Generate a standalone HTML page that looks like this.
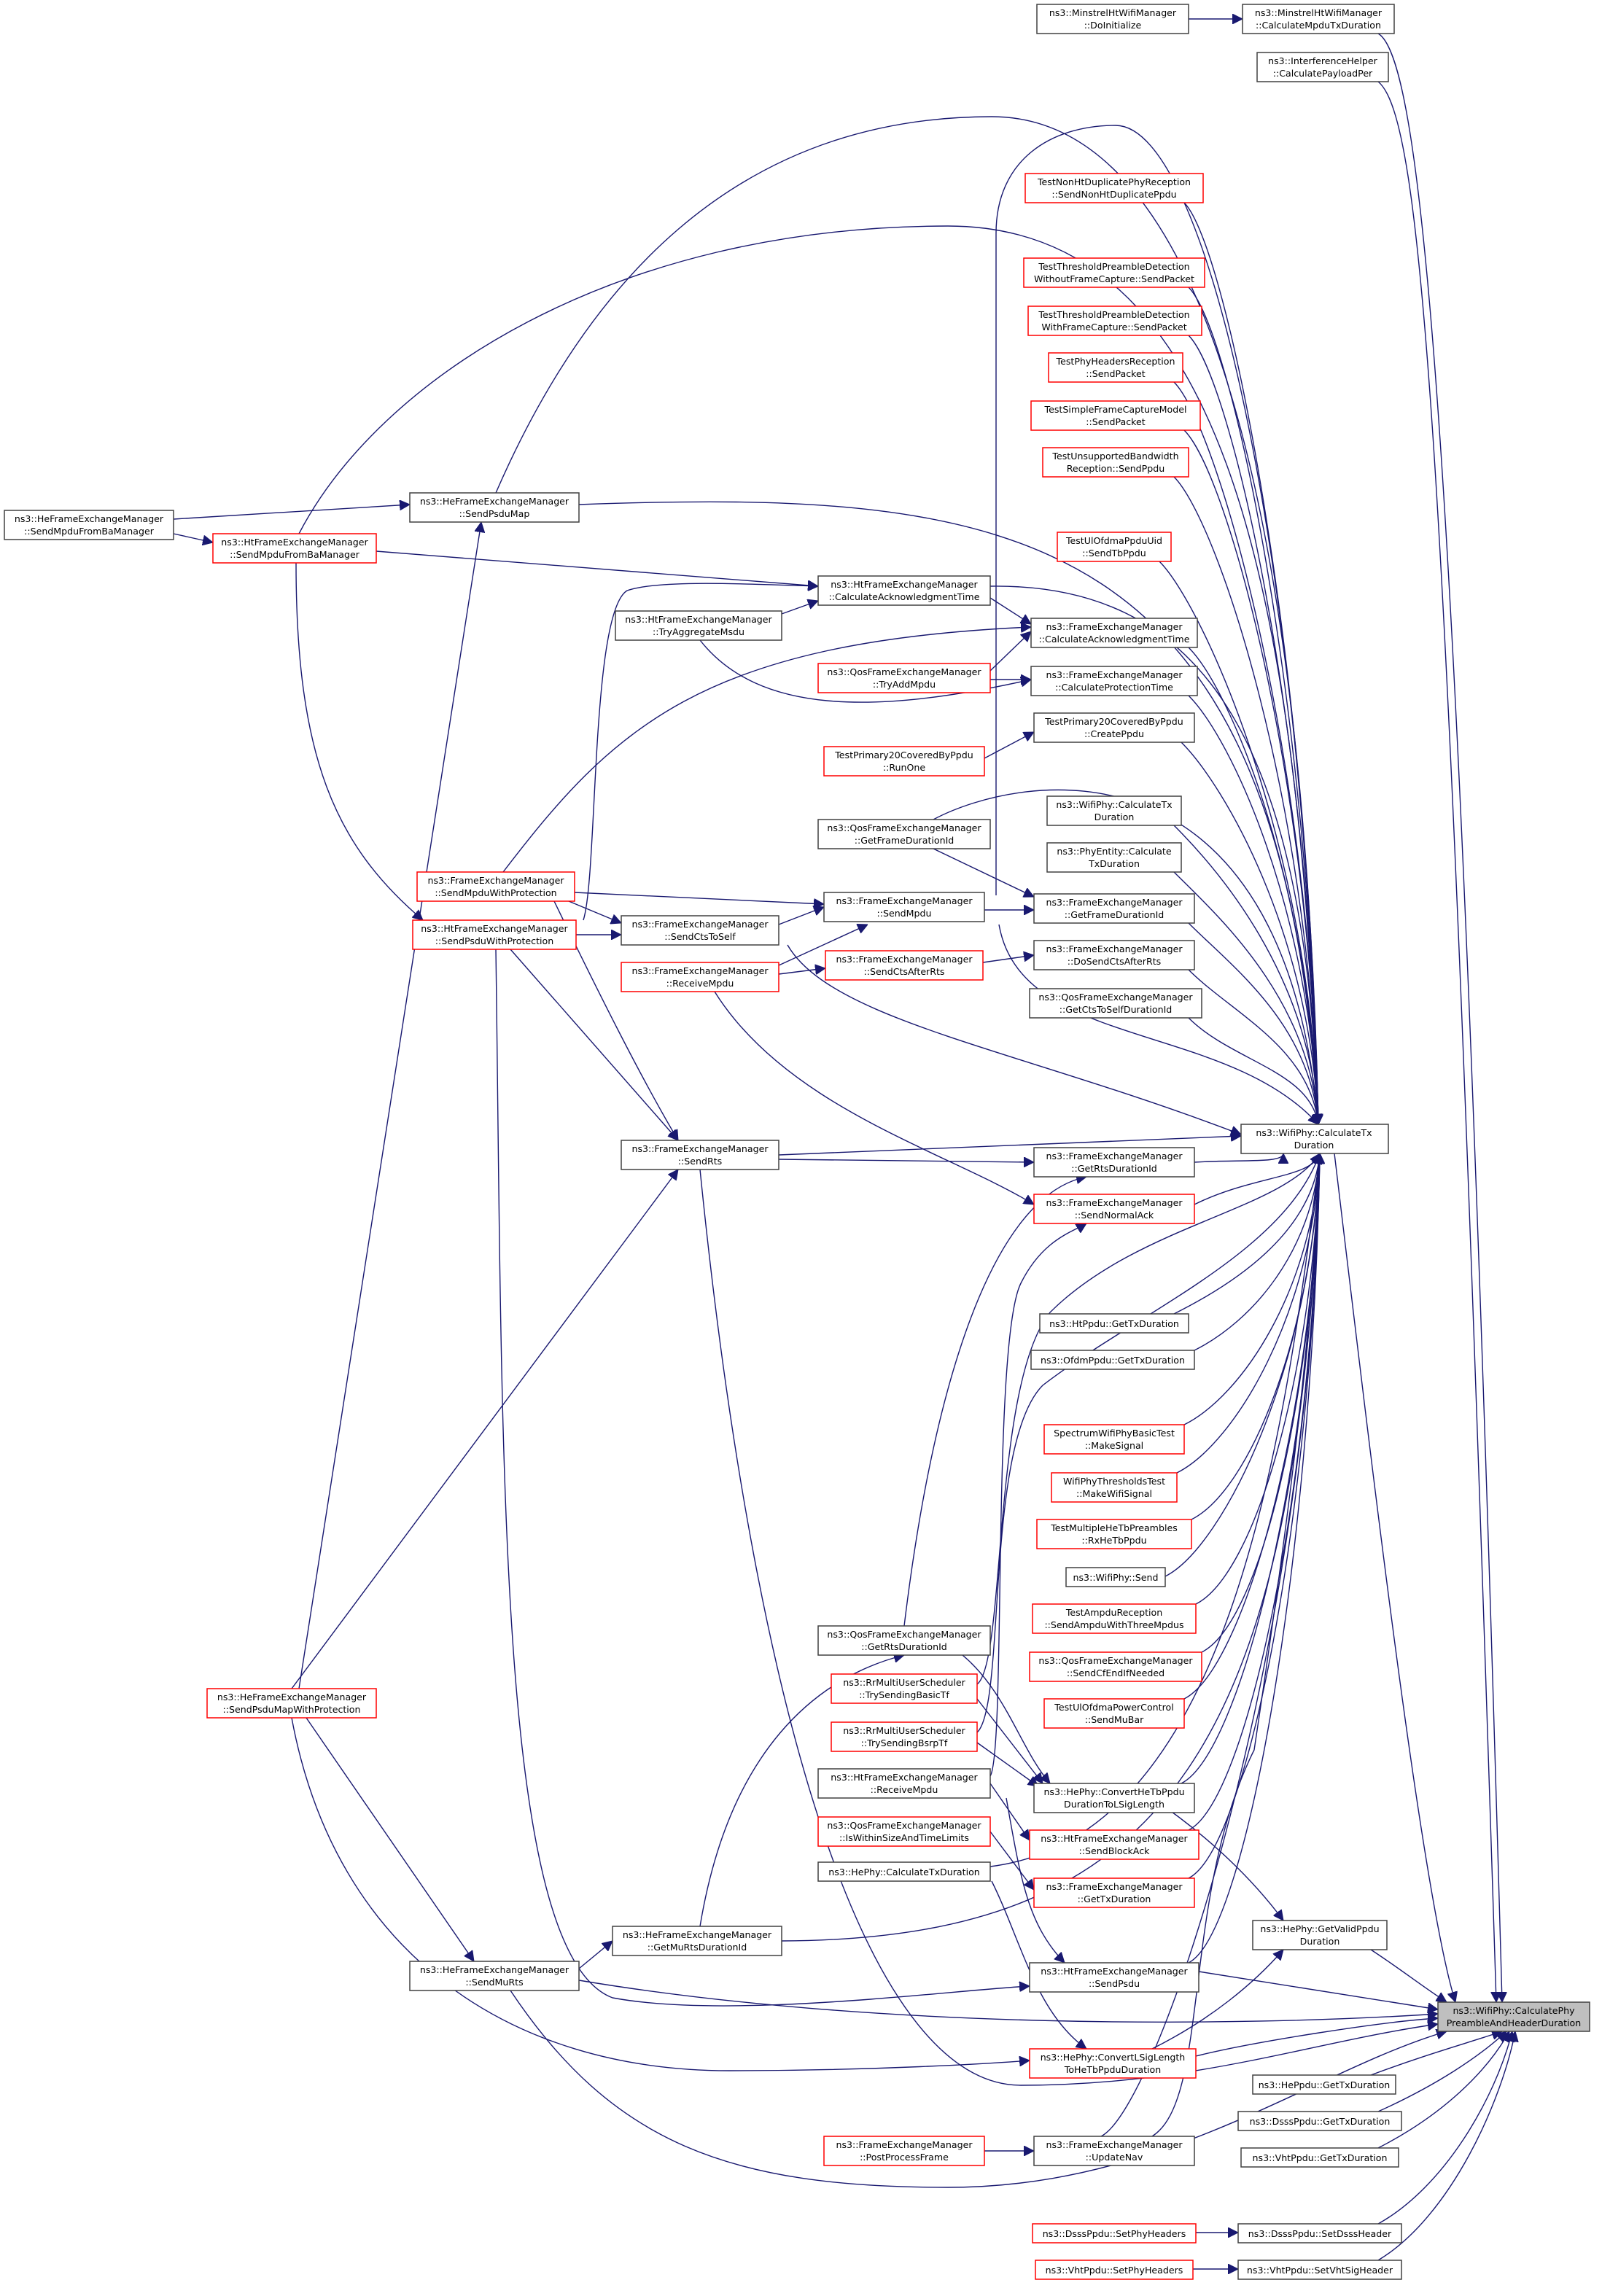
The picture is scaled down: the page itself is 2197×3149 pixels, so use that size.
<!DOCTYPE html>
<html><head><meta charset="utf-8"><style>
html,body{margin:0;padding:0;background:#fff;}
svg{display:block;}
text{font-family:"DejaVu Sans","Liberation Sans",sans-serif;font-size:6.3px;fill:#000;text-anchor:middle;}
.b{fill:#fff;stroke:#404040;stroke-width:0.75;}
.r{fill:#fff;stroke:#ff0000;stroke-width:0.75;}
.g{fill:#bfbfbf;stroke:#404040;stroke-width:0.75;}
path,line{fill:none;stroke:#191970;stroke-width:0.7;}
</style></head><body>
<svg width="2197" height="3149" viewBox="0 0 1098.5 1574.5" xmlns="http://www.w3.org/2000/svg">
<defs><marker id="a" viewBox="0 0 10 10" refX="10" refY="5" markerWidth="7" markerHeight="7" markerUnits="userSpaceOnUse" orient="auto"><path d="M0,0 L10,5 L0,10 z" style="fill:#191970;stroke:#191970"/></marker></defs>
<g marker-end="url(#a)">
<path d="M945,23 C975,40 1000,300 1030,1373"/>
<path d="M945,56 C975,80 992,300 1026,1373"/>
<path d="M812,139 C842,169 898,455 904,771"/>
<path d="M815,197 C845,227 898,484 904,771"/>
<path d="M815,230 C845,260 898,500 904,771"/>
<path d="M805,262 C835,292 898,516 904,771"/>
<path d="M812,295 C842,325 898,533 904,771"/>
<path d="M805,327 C835,357 898,549 904,771"/>
<path d="M795,385 C825,415 898,578 904,771"/>
<path d="M815,444 C845,474 898,607 904,771"/>
<path d="M815,477 C845,507 898,624 904,771"/>
<path d="M810,509 C840,539 898,640 904,771"/>
<path d="M805,566 C835,596 898,668 904,771"/>
<path d="M805,598 C835,628 898,684 904,771"/>
<path d="M815,633 C845,663 898,702 904,771"/>
<path d="M815,665 C845,695 898,718 904,771"/>
<path d="M815,698 C845,728 898,734 904,771"/>
<path d="M340,338 C400,200 500,80 680,80 C840,80 895,400 904,771"/>
<path d="M205,366 C260,260 420,155 650,155 C840,155 890,400 904,771"/>
<path d="M683,614 L683,160 C683,110 720,86 765,86 C830,86 895,400 904,771"/>
<path d="M397,346 C700,335 880,360 904,771"/>
<path d="M679,402 C820,400 895,500 904,771"/>
<path d="M640,562 C700,530 880,500 904,771"/>
<path d="M540,648 C570,700 700,720 851,778"/>
<path d="M685,634 C700,720 840,700 904,771"/>
<path d="M534,792 L851,779"/>
<path d="M819,797 C850,795 880,798 880,791"/>
<path d="M819,826 C859,806 900,808 905,791"/>
<path d="M805,901 C845,881 900,846 905,791"/>
<path d="M819,926 C859,906 900,858 905,791"/>
<path d="M812,977 C852,957 900,884 905,791"/>
<path d="M807,1010 C847,990 900,900 905,791"/>
<path d="M817,1042 C857,1022 900,916 905,791"/>
<path d="M799,1081 C839,1061 900,936 905,791"/>
<path d="M820,1100 C860,1080 900,945 905,791"/>
<path d="M824,1133 C864,1113 900,962 905,791"/>
<path d="M812,1165 C852,1145 900,978 905,791"/>
<path d="M810,1223 C850,1203 900,1007 905,791"/>
<path d="M815,1255 C855,1235 900,1023 905,791"/>
<path d="M815,1288 C855,1268 900,1040 905,791"/>
<path d="M815,1346 C855,1326 900,1068 905,791"/>
<path d="M755,1465 C795,1445 900,1128 905,791"/>
<path d="M790,1465 C830,1440 810,1300 860,1200 C890,1000 900,900 905,791"/>
<path d="M670,1155 C690,1140 680,950 720,900 C780,840 880,830 905,791"/>
<path d="M670,1188 C690,1170 675,990 715,950 C780,900 880,860 905,791"/>
<path d="M679,1280 C840,1260 880,1000 905,791"/>
<path d="M536,1331 C800,1330 890,1200 905,791"/>
<path d="M679,1218 C690,1200 680,920 700,880 C715,850 735,845 745,839"/>
<path d="M915,791 C940,1000 975,1300 998,1373"/>
<path d="M940,1337 C960,1350 975,1362 992,1373"/>
<path d="M822,1352 L986,1378"/>
<path d="M820,1410 C860,1400 950,1386 986,1384"/>
<path d="M397,1358 C600,1392 850,1390 986,1381"/>
<path d="M350,1365 C420,1470 500,1500 650,1500 C800,1500 900,1420 992,1393"/>
<path d="M480,802 C520,1200 600,1430 700,1430 C820,1430 900,1400 986,1388"/>
<path d="M940,1423 C980,1408 1010,1400 1030,1393"/>
<path d="M945,1448 C985,1430 1015,1410 1033,1393"/>
<path d="M945,1473 C990,1450 1020,1420 1035,1393"/>
<path d="M945,1525 C990,1500 1025,1440 1037,1393"/>
<path d="M945,1550 C995,1520 1030,1440 1039,1393"/>
<path d="M815,13 L852,13"/>
<path d="M119,356 L281,346"/>
<path d="M119,366 L146,372"/>
<path d="M258,378 L561,402"/>
<path d="M203,386 C203,520 230,580 290,631"/>
<path d="M536,421 L561,412"/>
<path d="M480,439 C520,490 600,490 707,466"/>
<path d="M679,410 L707,428"/>
<path d="M679,460 L707,433"/>
<path d="M679,466 L707,466"/>
<path d="M675,520 L709,502"/>
<path d="M345,598 C420,500 480,440 707,430"/>
<path d="M394,612 L565,620"/>
<path d="M390,618 L426,633"/>
<path d="M380,618 C410,680 440,740 465,782"/>
<path d="M400,631 C410,600 405,420 430,405 C450,398 500,400 561,402"/>
<path d="M395,641 L426,641"/>
<path d="M350,651 L465,782"/>
<path d="M340,651 C345,1000 340,1340 420,1370 C500,1385 650,1365 706,1362"/>
<path d="M534,634 L565,622"/>
<path d="M675,624 L709,624"/>
<path d="M640,582 L709,615"/>
<path d="M534,662 L595,634"/>
<path d="M534,668 L566,664"/>
<path d="M674,660 L709,655"/>
<path d="M490,680 C540,760 650,790 709,826"/>
<path d="M534,795 L709,797"/>
<path d="M620,1115 C640,950 680,820 745,807"/>
<path d="M200,1158 L465,802"/>
<path d="M205,1158 L330,358"/>
<path d="M210,1178 L325,1345"/>
<path d="M200,1178 C230,1340 350,1420 500,1420 C600,1420 680,1415 706,1413"/>
<path d="M397,1350 L420,1331"/>
<path d="M480,1321 C500,1200 560,1150 620,1135"/>
<path d="M670,1165 L715,1223"/>
<path d="M670,1195 L712,1225"/>
<path d="M660,1135 C690,1160 700,1200 720,1223"/>
<path d="M679,1223 L706,1262"/>
<path d="M690,1233 C700,1290 705,1320 730,1346"/>
<path d="M679,1256 L709,1296"/>
<path d="M680,1290 C700,1330 710,1380 745,1405"/>
<path d="M790,1233 C830,1260 860,1290 880,1317"/>
<path d="M790,1405 C830,1385 860,1360 880,1337"/>
<path d="M675,1475 L709,1475"/>
<path d="M820,1531 L849,1531"/>
<path d="M818,1556 L849,1556"/>
</g>
<g>
<rect class="b" x="711" y="3" width="104" height="20"/><text x="763" y="11">ns3::MinstrelHtWifiManager</text><text x="763" y="19.5">::DoInitialize</text>
<rect class="b" x="852" y="3" width="104" height="20"/><text x="904" y="11">ns3::MinstrelHtWifiManager</text><text x="904" y="19.5">::CalculateMpduTxDuration</text>
<rect class="b" x="862" y="36" width="90" height="20"/><text x="907" y="44">ns3::InterferenceHelper</text><text x="907" y="52.5">::CalculatePayloadPer</text>
<rect class="r" x="703" y="119" width="122" height="20"/><text x="764" y="127">TestNonHtDuplicatePhyReception</text><text x="764" y="135.5">::SendNonHtDuplicatePpdu</text>
<rect class="r" x="702" y="177" width="124" height="20"/><text x="764" y="185">TestThresholdPreambleDetection</text><text x="764" y="193.5">WithoutFrameCapture::SendPacket</text>
<rect class="r" x="705" y="210" width="119" height="20"/><text x="764" y="218">TestThresholdPreambleDetection</text><text x="764" y="226.5">WithFrameCapture::SendPacket</text>
<rect class="r" x="719" y="242" width="92" height="20"/><text x="765" y="250">TestPhyHeadersReception</text><text x="765" y="258.5">::SendPacket</text>
<rect class="r" x="707" y="275" width="116" height="20"/><text x="765" y="283">TestSimpleFrameCaptureModel</text><text x="765" y="291.5">::SendPacket</text>
<rect class="r" x="715" y="307" width="100" height="20"/><text x="765" y="315">TestUnsupportedBandwidth</text><text x="765" y="323.5">Reception::SendPpdu</text>
<rect class="r" x="725" y="365" width="78" height="20"/><text x="764" y="373">TestUlOfdmaPpduUid</text><text x="764" y="381.5">::SendTbPpdu</text>
<rect class="b" x="561" y="395" width="118" height="20"/><text x="620" y="403">ns3::HtFrameExchangeManager</text><text x="620" y="411.5">::CalculateAcknowledgmentTime</text>
<rect class="b" x="422" y="419" width="114" height="20"/><text x="479" y="427">ns3::HtFrameExchangeManager</text><text x="479" y="435.5">::TryAggregateMsdu</text>
<rect class="b" x="707" y="424" width="114" height="20"/><text x="764" y="432">ns3::FrameExchangeManager</text><text x="764" y="440.5">::CalculateAcknowledgmentTime</text>
<rect class="r" x="561" y="455" width="118" height="20"/><text x="620" y="463">ns3::QosFrameExchangeManager</text><text x="620" y="471.5">::TryAddMpdu</text>
<rect class="b" x="707" y="457" width="114" height="20"/><text x="764" y="465">ns3::FrameExchangeManager</text><text x="764" y="473.5">::CalculateProtectionTime</text>
<rect class="b" x="709" y="489" width="110" height="20"/><text x="764" y="497">TestPrimary20CoveredByPpdu</text><text x="764" y="505.5">::CreatePpdu</text>
<rect class="r" x="565" y="512" width="110" height="20"/><text x="620" y="520">TestPrimary20CoveredByPpdu</text><text x="620" y="528.5">::RunOne</text>
<rect class="b" x="718" y="546" width="92" height="20"/><text x="764" y="554">ns3::WifiPhy::CalculateTx</text><text x="764" y="562.5">Duration</text>
<rect class="b" x="561" y="562" width="118" height="20"/><text x="620" y="570">ns3::QosFrameExchangeManager</text><text x="620" y="578.5">::GetFrameDurationId</text>
<rect class="b" x="718" y="578" width="92" height="20"/><text x="764" y="586">ns3::PhyEntity::Calculate</text><text x="764" y="594.5">TxDuration</text>
<rect class="r" x="286" y="598" width="108" height="20"/><text x="340" y="606">ns3::FrameExchangeManager</text><text x="340" y="614.5">::SendMpduWithProtection</text>
<rect class="b" x="565" y="612" width="110" height="20"/><text x="620" y="620">ns3::FrameExchangeManager</text><text x="620" y="628.5">::SendMpdu</text>
<rect class="b" x="709" y="613" width="110" height="20"/><text x="764" y="621">ns3::FrameExchangeManager</text><text x="764" y="629.5">::GetFrameDurationId</text>
<rect class="b" x="426" y="628" width="108" height="20"/><text x="480" y="636">ns3::FrameExchangeManager</text><text x="480" y="644.5">::SendCtsToSelf</text>
<rect class="r" x="283" y="631" width="112" height="20"/><text x="339" y="639">ns3::HtFrameExchangeManager</text><text x="339" y="647.5">::SendPsduWithProtection</text>
<rect class="b" x="709" y="645" width="110" height="20"/><text x="764" y="653">ns3::FrameExchangeManager</text><text x="764" y="661.5">::DoSendCtsAfterRts</text>
<rect class="r" x="566" y="652" width="108" height="20"/><text x="620" y="660">ns3::FrameExchangeManager</text><text x="620" y="668.5">::SendCtsAfterRts</text>
<rect class="r" x="426" y="660" width="108" height="20"/><text x="480" y="668">ns3::FrameExchangeManager</text><text x="480" y="676.5">::ReceiveMpdu</text>
<rect class="b" x="706" y="678" width="118" height="20"/><text x="765" y="686">ns3::QosFrameExchangeManager</text><text x="765" y="694.5">::GetCtsToSelfDurationId</text>
<rect class="b" x="851" y="771" width="101" height="20"/><text x="901" y="779">ns3::WifiPhy::CalculateTx</text><text x="901" y="787.5">Duration</text>
<rect class="b" x="426" y="782" width="108" height="20"/><text x="480" y="790">ns3::FrameExchangeManager</text><text x="480" y="798.5">::SendRts</text>
<rect class="b" x="709" y="787" width="110" height="20"/><text x="764" y="795">ns3::FrameExchangeManager</text><text x="764" y="803.5">::GetRtsDurationId</text>
<rect class="r" x="709" y="819" width="110" height="20"/><text x="764" y="827">ns3::FrameExchangeManager</text><text x="764" y="835.5">::SendNormalAck</text>
<rect class="b" x="713" y="901" width="102" height="13"/><text x="764" y="910">ns3::HtPpdu::GetTxDuration</text>
<rect class="b" x="707" y="926" width="112" height="13"/><text x="763" y="935">ns3::OfdmPpdu::GetTxDuration</text>
<rect class="r" x="716" y="977" width="96" height="20"/><text x="764" y="985">SpectrumWifiPhyBasicTest</text><text x="764" y="993.5">::MakeSignal</text>
<rect class="r" x="721" y="1010" width="86" height="20"/><text x="764" y="1018">WifiPhyThresholdsTest</text><text x="764" y="1026.5">::MakeWifiSignal</text>
<rect class="r" x="711" y="1042" width="106" height="20"/><text x="764" y="1050">TestMultipleHeTbPreambles</text><text x="764" y="1058.5">::RxHeTbPpdu</text>
<rect class="b" x="731" y="1075" width="68" height="13"/><text x="765" y="1084">ns3::WifiPhy::Send</text>
<rect class="r" x="708" y="1100" width="112" height="20"/><text x="764" y="1108">TestAmpduReception</text><text x="764" y="1116.5">::SendAmpduWithThreeMpdus</text>
<rect class="b" x="561" y="1115" width="118" height="20"/><text x="620" y="1123">ns3::QosFrameExchangeManager</text><text x="620" y="1131.5">::GetRtsDurationId</text>
<rect class="r" x="706" y="1133" width="118" height="20"/><text x="765" y="1141">ns3::QosFrameExchangeManager</text><text x="765" y="1149.5">::SendCfEndIfNeeded</text>
<rect class="r" x="570" y="1148" width="100" height="20"/><text x="620" y="1156">ns3::RrMultiUserScheduler</text><text x="620" y="1164.5">::TrySendingBasicTf</text>
<rect class="r" x="142" y="1158" width="116" height="20"/><text x="200" y="1166">ns3::HeFrameExchangeManager</text><text x="200" y="1174.5">::SendPsduMapWithProtection</text>
<rect class="r" x="716" y="1165" width="96" height="20"/><text x="764" y="1173">TestUlOfdmaPowerControl</text><text x="764" y="1181.5">::SendMuBar</text>
<rect class="r" x="570" y="1181" width="100" height="20"/><text x="620" y="1189">ns3::RrMultiUserScheduler</text><text x="620" y="1197.5">::TrySendingBsrpTf</text>
<rect class="b" x="561" y="1213" width="118" height="20"/><text x="620" y="1221">ns3::HtFrameExchangeManager</text><text x="620" y="1229.5">::ReceiveMpdu</text>
<rect class="b" x="709" y="1223" width="110" height="20"/><text x="764" y="1231">ns3::HePhy::ConvertHeTbPpdu</text><text x="764" y="1239.5">DurationToLSigLength</text>
<rect class="r" x="561" y="1246" width="118" height="20"/><text x="620" y="1254">ns3::QosFrameExchangeManager</text><text x="620" y="1262.5">::IsWithinSizeAndTimeLimits</text>
<rect class="r" x="706" y="1255" width="116" height="20"/><text x="764" y="1263">ns3::HtFrameExchangeManager</text><text x="764" y="1271.5">::SendBlockAck</text>
<rect class="b" x="561" y="1277" width="118" height="13"/><text x="620" y="1286">ns3::HePhy::CalculateTxDuration</text>
<rect class="r" x="709" y="1288" width="110" height="20"/><text x="764" y="1296">ns3::FrameExchangeManager</text><text x="764" y="1304.5">::GetTxDuration</text>
<rect class="b" x="859" y="1317" width="92" height="20"/><text x="905" y="1325">ns3::HePhy::GetValidPpdu</text><text x="905" y="1333.5">Duration</text>
<rect class="b" x="420" y="1321" width="116" height="20"/><text x="478" y="1329">ns3::HeFrameExchangeManager</text><text x="478" y="1337.5">::GetMuRtsDurationId</text>
<rect class="b" x="281" y="1345" width="116" height="20"/><text x="339" y="1353">ns3::HeFrameExchangeManager</text><text x="339" y="1361.5">::SendMuRts</text>
<rect class="b" x="706" y="1346" width="116" height="20"/><text x="764" y="1354">ns3::HtFrameExchangeManager</text><text x="764" y="1362.5">::SendPsdu</text>
<rect class="g" x="986" y="1373" width="104" height="20"/><text x="1038" y="1381">ns3::WifiPhy::CalculatePhy</text><text x="1038" y="1389.5">PreambleAndHeaderDuration</text>
<rect class="r" x="706" y="1405" width="114" height="20"/><text x="763" y="1413">ns3::HePhy::ConvertLSigLength</text><text x="763" y="1421.5">ToHeTbPpduDuration</text>
<rect class="b" x="859" y="1423" width="98" height="13"/><text x="908" y="1432">ns3::HePpdu::GetTxDuration</text>
<rect class="b" x="849" y="1448" width="112" height="13"/><text x="905" y="1457">ns3::DsssPpdu::GetTxDuration</text>
<rect class="r" x="565" y="1465" width="110" height="20"/><text x="620" y="1473">ns3::FrameExchangeManager</text><text x="620" y="1481.5">::PostProcessFrame</text>
<rect class="b" x="709" y="1465" width="110" height="20"/><text x="764" y="1473">ns3::FrameExchangeManager</text><text x="764" y="1481.5">::UpdateNav</text>
<rect class="b" x="851" y="1473" width="108" height="13"/><text x="905" y="1482">ns3::VhtPpdu::GetTxDuration</text>
<rect class="r" x="708" y="1525" width="112" height="13"/><text x="764" y="1534">ns3::DsssPpdu::SetPhyHeaders</text>
<rect class="b" x="849" y="1525" width="112" height="13"/><text x="905" y="1534">ns3::DsssPpdu::SetDsssHeader</text>
<rect class="r" x="710" y="1550" width="108" height="13"/><text x="764" y="1559">ns3::VhtPpdu::SetPhyHeaders</text>
<rect class="b" x="849" y="1550" width="112" height="13"/><text x="905" y="1559">ns3::VhtPpdu::SetVhtSigHeader</text>
<rect class="b" x="281" y="338" width="116" height="20"/><text x="339" y="346">ns3::HeFrameExchangeManager</text><text x="339" y="354.5">::SendPsduMap</text>
<rect class="b" x="3" y="350" width="116" height="20"/><text x="61" y="358">ns3::HeFrameExchangeManager</text><text x="61" y="366.5">::SendMpduFromBaManager</text>
<rect class="r" x="146" y="366" width="112" height="20"/><text x="202" y="374">ns3::HtFrameExchangeManager</text><text x="202" y="382.5">::SendMpduFromBaManager</text>
</g>
</svg>
</body></html>
